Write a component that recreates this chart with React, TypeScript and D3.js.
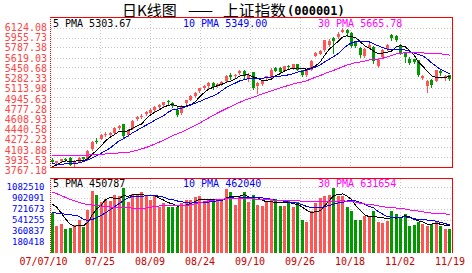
import React from 'react';
import * as d3 from 'd3';

// ---------- data ----------
const xTickLabels = ['07/07/10', '07/25', '08/09', '08/24', '09/10', '09/26', '10/18', '11/02', '11/19'];
const priceTicks = [6124.08, 5955.73, 5787.38, 5619.03, 5450.68, 5282.33, 5113.98, 4945.63, 4777.28, 4608.93, 4440.58, 4272.23, 4103.88, 3935.53, 3767.18];
const volumeTicks = [1082510, 902091, 721673, 541255, 360837, 180418];
const priceMaLabels = ['5 PMA 5303.67', '10 PMA 5349.00', '30 PMA 5665.78'];
const volumeMaLabels = ['5 PMA 450787', '10 PMA 462040', '30 PMA 631654'];
const maPeriods = [5, 10, 30];

const opens = [3910, 3850, 3880, 3925, 3940, 3830, 3875, 3945, 3915, 4081,
  4230, 4262, 4320, 4330, 4355, 4445, 4500, 4330, 4430, 4590,
  4620, 4680, 4700, 4740, 4790, 4830, 4890, 4860, 4745, 4690,
  4860, 4920, 4985, 5070, 5110, 5140, 5200, 5150, 5180, 5230,
  5340, 5310, 5360, 5400, 5270, 5380, 5140, 5180, 5285, 5290,
  5455, 5445, 5405, 5480, 5440, 5510, 5415, 5330, 5420, 5660,
  5686, 5754, 5840, 5960, 5978, 6062, 6090, 6040, 5880, 5790,
  5653, 5790, 5810, 5480, 5640, 5765, 6000, 5990, 5830, 5700,
  5610, 5600, 5585, 5280, 5150, 5250, 5240, 5400, 5300, 5330];
const highs = [3930, 3890, 3925, 3940, 3945, 3900, 3950, 3960, 4070, 4222,
  4270, 4340, 4375, 4365, 4450, 4490, 4510, 4420, 4570, 4640,
  4670, 4725, 4770, 4810, 4850, 4885, 4920, 4880, 4790, 4830,
  4915, 4990, 5050, 5110, 5160, 5210, 5215, 5200, 5240, 5330,
  5360, 5345, 5420, 5410, 5370, 5390, 5215, 5250, 5320, 5445,
  5470, 5460, 5490, 5500, 5520, 5520, 5420, 5440, 5590, 5726,
  5750, 5930, 5935, 5980, 6050, 6124.08, 6100, 6050, 5900, 5800,
  5790, 5870, 5820, 5613, 5770, 5850, 6020, 6005, 5850, 5720,
  5640, 5600, 5590, 5340, 5250, 5260, 5420, 5420, 5340, 5340];
const lows = [3845, 3840, 3872, 3890, 3815, 3767.18, 3862, 3905, 3910, 4075,
  4190, 4250, 4310, 4320, 4350, 4430, 4280, 4300, 4420, 4580,
  4605, 4665, 4690, 4725, 4770, 4815, 4830, 4800, 4640, 4680,
  4850, 4910, 4960, 5050, 5100, 5120, 5100, 5130, 5170, 5220,
  5270, 5285, 5350, 5290, 5240, 5100, 5030, 5160, 5270, 5285,
  5395, 5370, 5400, 5450, 5430, 5410, 5320, 5320, 5410, 5650,
  5680, 5740, 5820, 5700, 5960, 6050, 5990, 5810, 5800, 5640,
  5640, 5780, 5540, 5460, 5630, 5750, 5920, 5900, 5680, 5560,
  5520, 5530, 5310, 5260, 5050, 5130, 5230, 5340, 5250, 5250];
const closes = [3860, 3880, 3915, 3905, 3821, 3885, 3935, 3915, 4058, 4213,
  4210, 4320, 4345, 4350, 4440, 4471, 4300, 4406, 4560, 4628,
  4651, 4717, 4750, 4795, 4832, 4872, 4870, 4815, 4656, 4812,
  4904, 4980, 5032, 5107, 5150, 5194, 5137, 5185, 5218, 5321,
  5294, 5330, 5405, 5310, 5340, 5120, 5200, 5245, 5315, 5425,
  5405, 5380, 5480, 5465, 5510, 5420, 5335, 5420, 5574, 5700,
  5730, 5914, 5913, 5903, 6030, 6092, 6036, 5825, 5818, 5667,
  5773, 5843, 5562, 5589, 5748, 5835, 5954, 5914, 5695, 5640,
  5539, 5551, 5330, 5316, 5236, 5158, 5412, 5362, 5316, 5269];
const volumes = [653000, 445000, 478000, 390000, 412000, 470000, 540000, 430000, 708000, 1020000,
  955000, 850000, 900000, 860000, 955000, 940000, 1082510, 840000, 980000, 960000,
  1000000, 960000, 870000, 950000, 760000, 820000, 760000, 760000, 760000, 820000,
  870000, 870000, 930000, 950000, 830000, 870000, 850000, 880000, 900000, 1060000,
  1000000, 800000, 950000, 1010000, 850000, 960000, 800000, 770000, 840000, 880000,
  890000, 780000, 770000, 870000, 760000, 840000, 544000, 516000, 686000, 823000,
  915000, 940000, 960000, 1080000, 950000, 950000, 760000, 687000, 550000, 550000,
  607000, 595000, 698000, 510000, 498000, 527000, 698000, 641000, 572000, 641000,
  450000, 470000, 520000, 480000, 446000, 480000, 520000, 450000, 400000, 404000];
// sessions before the first candle, needed for the moving averages at the left edge
const priorCloses = [4053, 4109, 4000, 3670, 3767, 3837, 3926, 3978, 4033, 4150,
  4176, 4149, 4228, 4252, 4269, 4268, 4200, 4091, 3941, 4019,
  4040, 3914, 3820, 3836, 3880, 3760, 3680, 3781, 3883];
const priorVolumes = [1300000, 1400000, 1350000, 1300000, 1300000, 1200000, 1150000, 1100000, 1250000, 1200000,
  1150000, 1100000, 1150000, 1050000, 1100000, 1000000, 1050000, 1100000, 1050000, 1200000,
  600000, 560000, 520000, 500000, 525000, 700000, 950000, 900000, 845000];

// ---------- style ----------
const UP = '#ff5555';
const DOWN = '#009900';
const maColors = ['#000000', '#0000ff', '#ff00ff'];
const MONO = "'DejaVu Sans Mono', monospace";
const GRID = '#c8c8c8';

const L = 50, R = 452;
const MAIN_TOP = 17, MAIN_BOTTOM = 167, VOL_TOP = 178, VOL_BOTTOM = 253;

function movingAverage(values: number[], prior: number[], n: number): number[] {
  const all = prior.concat(values);
  const off = prior.length;
  return values.map((_, i) => d3.mean(all.slice(off + i - n + 1, off + i + 1)) as number);
}

export default function App() {
  const N = closes.length;
  const x = d3.scaleBand<number>().domain(d3.range(N)).range([L, R]);
  const cx = (i: number) => (x(i) as number) + x.bandwidth() / 2;
  const gridX = d3.scaleLinear().domain([0, 8]).range([50, 450]);

  const yPrice = d3.scaleLinear().domain([d3.min(lows) as number, d3.max(highs) as number]).range([168, 28]);
  const yPriceLabel = d3.scaleLinear().domain([3767.18, 6124.08]).range([170.5, 27.5]);
  const yVol = d3.scaleLinear().domain([0, 1082510]).range([VOL_BOTTOM, 187.5]);
  const yVolLabel = d3.scaleLinear().domain([180418, 1082510]).range([242, 187.3]);

  const priceMAs = maPeriods.map((p) => movingAverage(closes, priorCloses, p));
  const volMAs = maPeriods.map((p) => movingAverage(volumes, priorVolumes, p));

  const priceLine = d3.line<number>().x((_, i) => cx(i)).y((d) => yPrice(d));
  const volLine = d3.line<number>().x((_, i) => cx(i)).y((d) => yVol(d));

  const legendX = [53, 183, 318];

  return (
    <div style={{ position: 'fixed', left: 0, top: 0 }}>
      <svg width={472} height={273} style={{ display: 'block', background: '#fff' }}>
        <defs>
          <clipPath id="clipMain"><rect x={L} y={MAIN_TOP} width={R - L} height={MAIN_BOTTOM - MAIN_TOP + 1} /></clipPath>
          <clipPath id="clipVol"><rect x={L} y={VOL_TOP} width={R - L} height={VOL_BOTTOM - VOL_TOP} /></clipPath>
        </defs>

        {/* title */}
        <text y={15.5} fontSize={15} fill="#000" fontFamily="'Noto Sans CJK SC', sans-serif">
          <tspan x={122}>日K线图</tspan>
          <tspan x={188} textLength={25} lengthAdjust="spacingAndGlyphs">——</tspan>
          <tspan x={223} textLength={63} lengthAdjust="spacingAndGlyphs">上证指数</tspan>
        </text>
        <text x={287} y={15} fontSize={12} fontWeight="bold" fontFamily={MONO} fill="#000">(000001)</text>

        {/* grid */}
        <g shapeRendering="crispEdges" stroke={GRID} strokeDasharray="1,2">
          {priceTicks.slice(0, -1).map((t) => (
            <line key={'gp' + t} x1={L + 1} x2={R} y1={Math.floor(yPrice(t)) + 0.5} y2={Math.floor(yPrice(t)) + 0.5} />
          ))}
          {volumeTicks.map((t) => (
            <line key={'gv' + t} x1={L + 1} x2={R} y1={Math.floor(yVol(t)) + 0.5} y2={Math.floor(yVol(t)) + 0.5} />
          ))}
          {d3.range(1, 8).map((k) => (
            <g key={'gx' + k}>
              <line x1={Math.floor(gridX(k)) + 0.5} x2={Math.floor(gridX(k)) + 0.5} y1={MAIN_TOP + 1} y2={MAIN_BOTTOM} />
              <line x1={Math.floor(gridX(k)) + 0.5} x2={Math.floor(gridX(k)) + 0.5} y1={VOL_TOP + 1} y2={VOL_BOTTOM} />
            </g>
          ))}
        </g>

        {/* legends */}
        {priceMaLabels.map((s, k) => (
          <text key={'pl' + s} x={legendX[k]} y={26.5} fontSize={10} fontFamily={MONO} fill={maColors[k]}>{s}</text>
        ))}
        {volumeMaLabels.map((s, k) => (
          <text key={'vl' + s} x={legendX[k]} y={186.5} fontSize={10} fontFamily={MONO} fill={maColors[k]}>{s}</text>
        ))}

        {/* candles */}
        <g clipPath="url(#clipMain)" shapeRendering="crispEdges">
          {closes.map((c, i) => {
            const o = opens[i];
            const col = c >= o ? UP : DOWN;
            const px = Math.floor(cx(i));
            const yT = Math.round(yPrice(Math.max(o, c)));
            const yB = Math.round(yPrice(Math.min(o, c)));
            return (
              <g key={'c' + i}>
                <line x1={px + 0.5} x2={px + 0.5} y1={Math.round(yPrice(highs[i]))} y2={Math.round(yPrice(lows[i])) + 1} stroke={col} />
                <rect x={px - 1} y={yT} width={3} height={Math.max(1, yB - yT)} fill={col} />
              </g>
            );
          })}
          {priceMAs.map((ma, k) => (
            <path key={'pm' + k} d={priceLine(ma) as string} fill="none" stroke={maColors[k]} strokeWidth={1} shapeRendering="crispEdges" />
          ))}
        </g>

        {/* volume */}
        <g clipPath="url(#clipVol)">
          {volumes.map((v, i) => {
            const px = Math.floor(cx(i));
            const top = Math.round(yVol(v));
            return (
              <rect key={'v' + i} x={px - 1} y={top} width={3} height={VOL_BOTTOM - top}
                fill={closes[i] >= opens[i] ? UP : DOWN} shapeRendering="crispEdges" />
            );
          })}
          {volMAs.map((ma, k) => (
            <path key={'vm' + k} d={volLine(ma) as string} fill="none" stroke={maColors[k]} strokeWidth={1} shapeRendering="crispEdges" />
          ))}
        </g>

        {/* borders */}
        <g shapeRendering="crispEdges" stroke="#ff0000" fill="none">
          <line x1={L} x2={R + 1} y1={MAIN_TOP + 0.5} y2={MAIN_TOP + 0.5} />
          <line x1={L} x2={R + 1} y1={MAIN_BOTTOM + 0.5} y2={MAIN_BOTTOM + 0.5} />
          <line x1={R + 0.5} x2={R + 0.5} y1={MAIN_TOP} y2={MAIN_BOTTOM + 1} />
          <line x1={L + 0.5} x2={L + 0.5} y1={MAIN_TOP} y2={MAIN_BOTTOM} strokeDasharray="1,1" />
          <line x1={L} x2={R + 1} y1={VOL_TOP + 0.5} y2={VOL_TOP + 0.5} />
          <line x1={R + 0.5} x2={R + 0.5} y1={VOL_TOP} y2={VOL_BOTTOM} />
          <line x1={L + 0.5} x2={L + 0.5} y1={VOL_TOP} y2={VOL_BOTTOM} strokeDasharray="1,1" />
        </g>

        {/* axis labels */}
        {priceTicks.map((t) => (
          <text key={'yl' + t} x={47} y={yPriceLabel(t)} dy="0.35em" textAnchor="end" fontSize={10} fontFamily={MONO} fill="#ff4444">{t.toFixed(2)}</text>
        ))}
        {volumeTicks.map((t) => (
          <text key={'vlab' + t} x={44.5} y={yVolLabel(t)} dy="0.35em" textAnchor="end" fontSize={9} fontFamily={MONO} fill="#0000ff">{t}</text>
        ))}
        {xTickLabels.map((s, k) => (
          <text key={'xl' + s} x={k === 0 ? gridX(k) - 6.5 : gridX(k)} y={264.5} textAnchor="middle" fontSize={10} fontFamily={MONO} fill="#cc0000">{s}</text>
        ))}
      </svg>
    </div>
  );
}
